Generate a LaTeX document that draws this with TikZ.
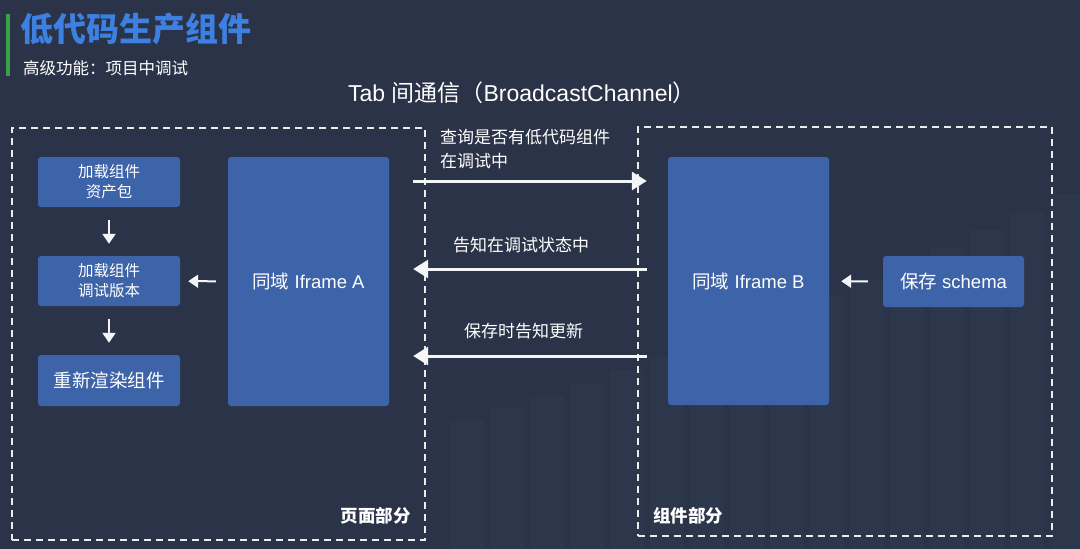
\documentclass[tikz,border=0pt]{standalone}
\usepackage{fontspec}
\setmainfont{Liberation Sans}
\newfontfamily\cjk{Noto Sans CJK SC}
\usetikzlibrary{arrows.meta}
\definecolor{bgc}{RGB}{42,51,71}
\definecolor{boxc}{RGB}{61,99,168}
\definecolor{titlec}{RGB}{62,128,226}
\definecolor{barc}{RGB}{58,160,72}
\definecolor{stripe}{RGB}{48,58,80}
\tikzset{
  blk/.style={rectangle, rounded corners=3pt, fill=boxc, draw=none, text=white, align=center, inner sep=0pt},
  dashbox/.style={rectangle, draw=white!90!bgc, line width=1.3pt, dash pattern=on 7pt off 5pt, inner sep=0pt},
  bigarrow/.style={white!95!bgc, line width=3pt, -{Triangle[length=15pt,width=18pt]}},
  smallarrow/.style={white!95!bgc, line width=2pt, -{Triangle[length=10pt,width=13pt]}},
  lbl/.style={text=white, inner sep=0pt, align=left},
}
\begin{document}
\begin{tikzpicture}[x=1pt,y=-1pt]
\fill[bgc] (0,0) rectangle (1080,549);
\useasboundingbox (0,0) rectangle (1080,549);
% faint background skyline
\foreach \x/\t in {450/420,490/408,530/396,570/384,610/370,650/356,690/342,730/328,770/312,810/296,850/280,890/264,930/248,970/230,1010/212,1050/194}{
  \fill[stripe, opacity=0.6] (\x,\t) rectangle ++(34,549-\t);
}
% title
\fill[barc] (6,14) rectangle (10,76);
\node[anchor=west, inner sep=0pt, text=titlec, font=\fontsize{33}{36}\selectfont\cjk\bfseries] (title) at (20,29) {低代码生产组件};
\node[anchor=west, inner sep=0pt, text=white, font=\fontsize{16.5}{18}\selectfont\cjk] (subtitle) at (23,68) {高级功能：项目中调试};
\node[inner sep=0pt, text=white, font=\fontsize{23}{26}\selectfont] (chan) at (522,93) {Tab {\cjk 间通信（}BroadcastChannel{\cjk ）}};
% dashed containers
\node[dashbox, minimum width=413pt, minimum height=412pt] (pagebox) at (218.5,334) {};
\node[dashbox, minimum width=414pt, minimum height=409pt] (compbox) at (845,331.5) {};
\node[anchor=east, lbl, font=\fontsize{17.5}{20}\selectfont\cjk\bfseries] (pagelbl) at (411,516) {页面部分};
\node[anchor=west, lbl, font=\fontsize{17.5}{20}\selectfont\cjk\bfseries] (complbl) at (653,516) {组件部分};
% blocks
\node[blk, minimum width=142pt, minimum height=50pt, font=\fontsize{15.5}{20}\selectfont\cjk] (assets) at (109,182) {加载组件\\资产包};
\node[blk, minimum width=142pt, minimum height=50pt, font=\fontsize{15.5}{20}\selectfont\cjk] (debugv) at (109,281) {加载组件\\调试版本};
\node[blk, minimum width=142pt, minimum height=51pt, font=\fontsize{18.5}{22}\selectfont\cjk] (rerender) at (109,380.5) {重新渲染组件};
\node[blk, minimum width=161pt, minimum height=249pt, font=\fontsize{18.5}{22}\selectfont] (iframeA) at (308.5,281.5) {{\cjk 同域} Iframe A};
\node[blk, minimum width=161pt, minimum height=248pt, font=\fontsize{18.5}{22}\selectfont] (iframeB) at (748.5,281) {{\cjk 同域} Iframe B};
\node[blk, minimum width=141pt, minimum height=51pt, font=\fontsize{18.5}{22}\selectfont] (schema) at (953.5,281.5) {{\cjk 保存} schema};
% small arrows
\draw[smallarrow, shorten <=13pt, shorten >=12pt] (assets) -- (debugv);
\draw[smallarrow, shorten <=13pt, shorten >=12pt] (debugv) -- (rerender);
\draw[smallarrow, shorten <=12pt, shorten >=8pt] (iframeA) -- (debugv);
\draw[smallarrow, shorten <=15pt, shorten >=12pt] (schema) -- (iframeB);
% long arrows
\draw[bigarrow, shorten <=24pt, shorten >=21pt] ([yshift=100.5pt]iframeA.east) -- ([yshift=100pt]iframeB.west);
\draw[bigarrow, shorten <=21pt, shorten >=24pt] ([yshift=12pt]iframeB.west) -- ([yshift=12.5pt]iframeA.east);
\draw[bigarrow, shorten <=21pt, shorten >=24pt] ([yshift=-75pt]iframeB.west) -- ([yshift=-74.5pt]iframeA.east);
% arrow labels
\node[anchor=west, lbl, font=\fontsize{17}{24}\selectfont\cjk] (q1) at (440,149) {查询是否有低代码组件\\在调试中};
\node[anchor=west, lbl, font=\fontsize{17}{24}\selectfont\cjk] (q2) at (453,245) {告知在调试状态中};
\node[anchor=west, lbl, font=\fontsize{17}{24}\selectfont\cjk] (q3) at (464,331) {保存时告知更新};
\end{tikzpicture}
\end{document}
